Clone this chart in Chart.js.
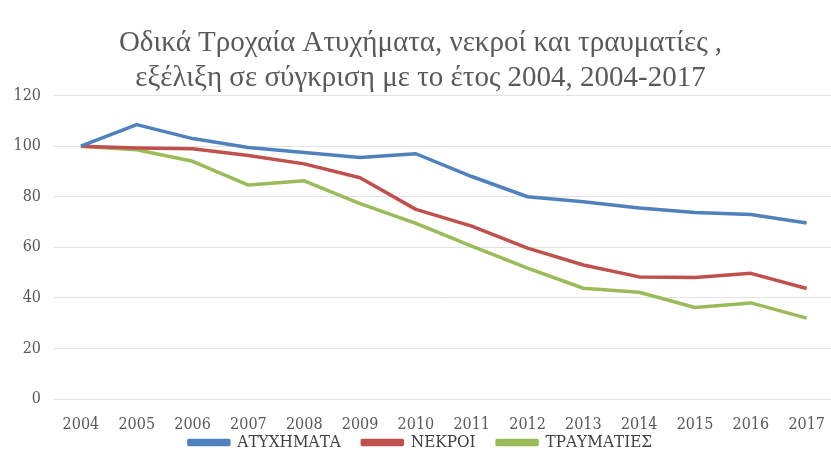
<!DOCTYPE html>
<html>
<head>
<meta charset="utf-8">
<script src="https://cdn.jsdelivr.net/npm/chart.js@4"></script>
<style>
html,body{margin:0;padding:0;background:#fff;overflow:hidden;width:831px;height:468px;}
#wrap{position:absolute;left:0;top:0;width:841px;height:468px;}
</style>
</head>
<body>
<div id="wrap"><canvas id="c"></canvas></div>
<script>
const years = ['2004','2005','2006','2007','2008','2009','2010','2011','2012','2013','2014','2015','2016','2017'];
const atyximata = [100,108.5,103,99.5,97.5,95.5,97,88,80,78,75.5,73.8,73,69.6];
const nekroi = [100,99.3,99,96.3,93,87.5,75,68.4,59.7,53,48.3,48.1,49.7,43.7];
const traumaties = [100,98.6,94,84.6,86.3,77.3,69.5,60.5,51.8,43.8,42.2,36.2,38,32];
const yTicks = [0,20,40,60,80,100,120];
const titleLines = ['Οδικά Τροχαία Ατυχήματα, νεκροί και τραυματίες ,','εξέλιξη σε σύγκριση με το έτος 2004, 2004-2017'];
const seriesNames = ['ΑΤΥΧΗΜΑΤΑ','ΝΕΚΡΟΙ','ΤΡΑΥΜΑΤΙΕΣ'];

const tickFont = {family:"'DejaVu Serif Condensed','DejaVu Serif',serif", size:16};
new Chart(document.getElementById('c'), {
  type:'line',
  data:{
    labels: years,
    datasets:[
      {label:seriesNames[0], data:atyximata, borderColor:'#4f81bd', backgroundColor:'#4f81bd'},
      {label:seriesNames[1], data:nekroi, borderColor:'#c0504d', backgroundColor:'#c0504d'},
      {label:seriesNames[2], data:traumaties, borderColor:'#9bbb59', backgroundColor:'#9bbb59'}
    ]
  },
  options:{
    responsive:true, maintainAspectRatio:false, animation:false,
    layout:{padding:{left:0,right:0,top:0,bottom:7}},
    elements:{line:{borderWidth:3.5,tension:0,borderJoinStyle:'round'},point:{radius:0,hoverRadius:0}},
    plugins:{
      title:{display:true,text:titleLines,color:'#595959',
        font:{family:"'Liberation Serif',serif",size:29,weight:'normal',lineHeight:1.2},
        padding:{top:26,bottom:0}},
      legend:{position:'bottom',
        labels:{boxWidth:40,boxHeight:4,padding:2,color:'#404040',
          font:{family:"'DejaVu Serif Condensed','DejaVu Serif',serif",size:17},
          generateLabels:(chart)=>{
            const items = Chart.defaults.plugins.legend.labels.generateLabels(chart);
            items.forEach((it,i)=>{ if(i<items.length-1) it.text = it.text + '    '; });
            return items;
          }}},
      tooltip:{enabled:false}
    },
    scales:{
      x:{offset:true,
        afterFit:(s)=>{s.height=33;},
        grid:{display:false,drawTicks:false},
        border:{display:true,color:'#e3e3e3',width:1},
        ticks:{color:'#595959',font:tickFont,padding:16,maxRotation:0,autoSkip:false}},
      y:{min:0,max:120,
        afterBuildTicks:(s)=>{s.ticks=yTicks.map(v=>({value:v}));},
        afterFit:(s)=>{s.width=53;},
        grid:{color:'#e3e3e3',lineWidth:1,drawTicks:false},
        border:{display:false},
        ticks:{color:'#595959',font:tickFont,padding:12}}
    }
  }
});
</script>
</body>
</html>
